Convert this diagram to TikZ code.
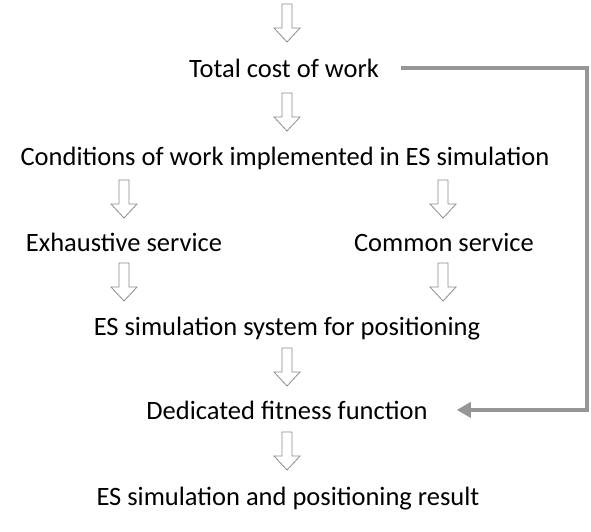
\documentclass[tikz,border=0pt]{standalone}
\usepackage{fontspec}
\setmainfont{Carlito}
\usetikzlibrary{arrows.meta,positioning,calc}

\definecolor{flowgray}{RGB}{140,140,140}
\definecolor{linkgray}{RGB}{150,150,150}

\begin{document}
\begin{tikzpicture}[
    x=1pt, y=1pt,
    label/.style={inner sep=0pt, anchor=base, font=\fontsize{26.5}{31}\selectfont},
    down/.pic={\draw[draw=flowgray, fill=white, line width=0.8pt, line join=miter]
        (-5,19) -- (-5,-5) -- (-13,-5) -- (0,-19) -- (13,-5) -- (5,-5) -- (5,19) -- cycle;},
    feedback/.style={draw=linkgray, line width=3.5pt, -{Triangle[length=14pt, width=15pt]}}
]
\useasboundingbox (0,0) rectangle (591,-531);

% Top entry
\pic at (287,-23) {down};
\node[label] (total) at (284,-77) {Total cost of work};

% Conditions
\pic at (287,-112) {down};
\node[label] (cond) at (285,-165) {Conditions of work implemented in ES simulation};

% Two services
\pic at (124,-199) {down};
\pic at (443,-199) {down};
\node[label] (exh) at (124,-251) {Exhaustive service};
\node[label] (com) at (444,-251) {Common service};

% Simulation system
\pic at (124,-282) {down};
\pic at (443,-282) {down};
\node[label] (sys) at (287,-335) {ES simulation system for positioning};

% Fitness
\pic at (287,-367) {down};
\node[label] (fit) at (287,-419) {Dedicated fitness function};

% Result
\pic at (287,-451) {down};
\node[label] (res) at (288,-505) {ES simulation and positioning result};

% Cost feeds fitness
\coordinate (turn) at (587,-240);
\draw[feedback] ([xshift=22pt]total.east) -| (turn) |- ([xshift=29pt]fit.east);

\end{tikzpicture}
\end{document}
